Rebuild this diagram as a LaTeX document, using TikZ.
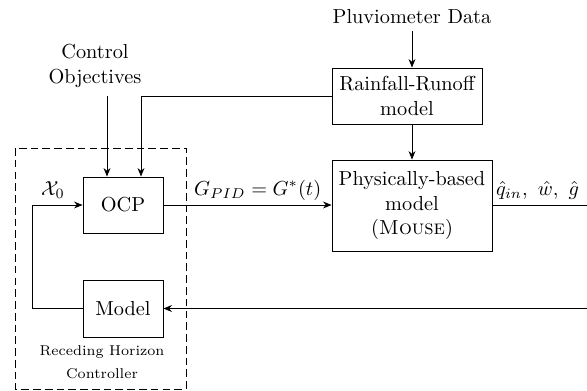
\documentclass[tikz,border=0pt]{standalone}
\usetikzlibrary{arrows.meta}
\begin{document}
\begin{tikzpicture}[x=0.4926pt,y=-0.4926pt,
  blk/.style={draw,line width=0.45pt,align=center,inner sep=1pt},
  arr/.style={-{Stealth[length=4.2pt,width=3.4pt,inset=1.4pt]},line width=0.4pt},
  ln/.style={line width=0.4pt},
  dbox/.style={line width=0.45pt,dash pattern=on 3.8pt off 2pt}]
\useasboundingbox (0,0) rectangle (587,390);
\clip (0,0) rectangle (587,390);
\node[blk,minimum width=39.4pt,minimum height=27.6pt] (ocp) at (123,205) {OCP};
\node[blk,minimum width=39.4pt,minimum height=28.1pt] (model) at (123,308.5) {Model};
\node[blk,minimum width=73.9pt,minimum height=27.6pt] (rain) at (407,96) {Rainfall-Runoff\\model};
\node[blk,minimum width=78.8pt,minimum height=44.8pt] (phys) at (412,205.5) {Physically-based\\model\\(\textsc{Mouse})};
\node[align=center] (ctrl) at (95,66) {Control\\Objectives};
\node (pluv) at (412,17) {Pluviometer Data};
\node (x0) at (53,190) {$\mathcal{X}_0$};
\node[anchor=west] (gpid) at (187,190) {$G_{PID}=G^*(t)$};
\node[anchor=west] (hat) at (489,190) {$\hat{q}_{in},\ \hat{w},\ \hat{g}$};
\node[font=\scriptsize,align=center] (rhc) at (102,362) {Receding Horizon\\[3.5pt]Controller};
\coordinate (ctrlend) at (107,96);
\coordinate (rj) at (141,96);
\coordinate (outr) at (600,205);
\coordinate (inr) at (600,308.5);
\coordinate (fb) at (32,308.5);
\draw[dbox] (15,148) rectangle (186,389);
\draw[arr] (ctrlend) -- (ctrlend |- ocp.north);
\draw[arr] (rain.west) -- (rj) -- (rj |- ocp.north);
\draw[arr] (pluv.south) -- (pluv.south |- rain.north);
\draw[arr] (rain.south -| phys.north) -- (phys.north);
\draw[arr] (ocp.east) -- (ocp.east -| phys.west);
\draw[ln] (phys.east |- ocp.east) -- (outr);
\draw[arr] (inr) -- (model.east);
\draw[arr] (model.west) -- (fb) |- (ocp.west);
\end{tikzpicture}
\end{document}
